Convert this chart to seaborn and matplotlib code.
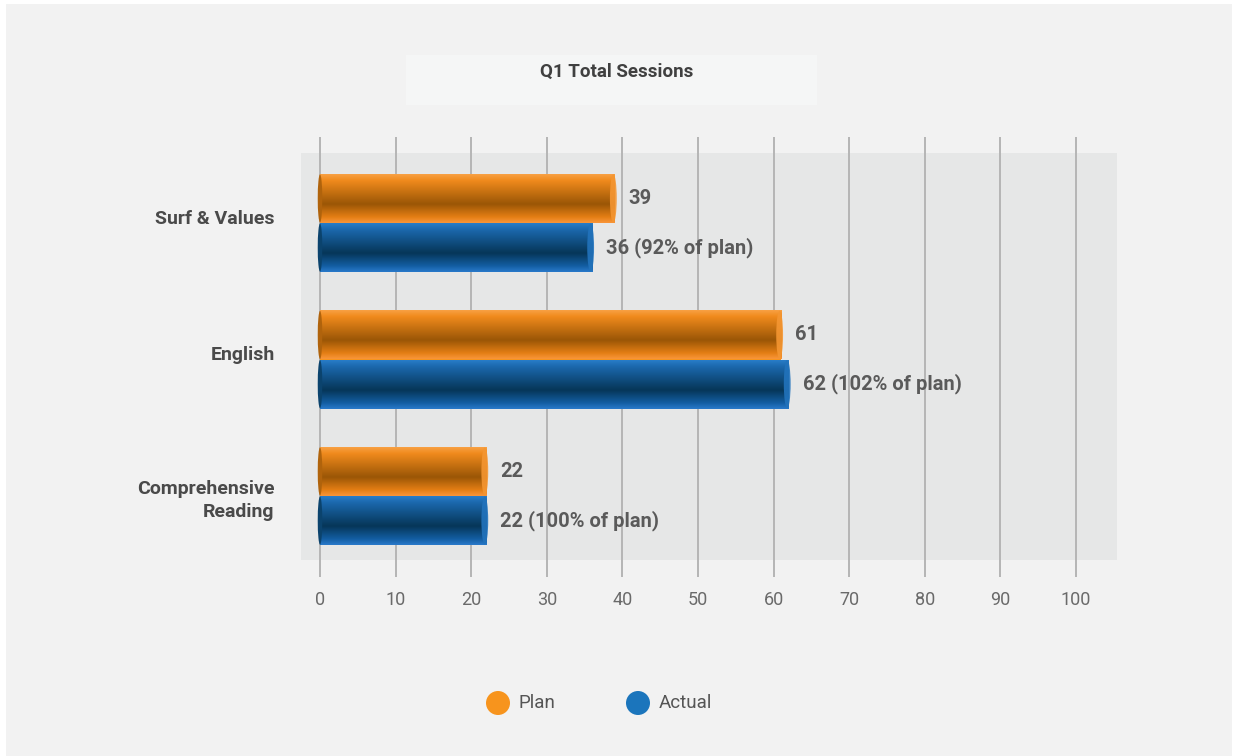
import matplotlib
matplotlib.use("Agg")
import matplotlib.pyplot as plt
import matplotlib.patches as mpatches
import matplotlib.transforms as mtransforms
from matplotlib.colors import LinearSegmentedColormap
import numpy as np
import pandas as pd
import seaborn as sns

categories = ["Surf & Values", "English", "Comprehensive\nReading"]
plan = [39, 61, 22]
actual = [36, 62, 22]
series_names = ["Plan", "Actual"]
actual_pct = ["92%", "102%", "100%"]
x_ticks = [0, 10, 20, 30, 40, 50, 60, 70, 80, 90, 100]
title = "Q1 Total Sessions"

df = pd.DataFrame({
    "category": categories * 2,
    "series": [series_names[0]] * 3 + [series_names[1]] * 3,
    "value": plan + actual,
})

sns.set_theme(style="white")
plt.rcParams["font.family"] = ["Roboto", "DejaVu Sans"]

W, H = 1234, 756
fig = plt.figure(figsize=(W / 100, H / 100), dpi=100)
fig.patch.set_facecolor("white")
# page background
fig.add_artist(mpatches.Rectangle((6 / W, 0), (W - 8) / W, 1 - 4 / H,
                                  transform=fig.transFigure, facecolor="#f2f2f2",
                                  edgecolor="none", zorder=-10))
# title box
fig.add_artist(mpatches.Rectangle((406 / W, 1 - 105 / H), 411 / W, 50 / H,
                                  transform=fig.transFigure, facecolor="#f5f6f6",
                                  edgecolor="none", zorder=-5))
fig.text(617 / W, 1 - 72 / H, title, ha="center", va="center", fontsize=13.5,
         fontweight="bold", color="#404040")

# axes
ax_l, ax_r = 301, 1117
ax_t, ax_b = 137, 577
ax = fig.add_axes([ax_l / W, 1 - ax_b / H, (ax_r - ax_l) / W, (ax_b - ax_t) / H])
ax.set_facecolor("none")

palette = {"Plan": "#f7941d", "Actual": "#1b75bc"}
sns.barplot(data=df, y="category", x="value", hue="series", orient="h",
            palette=palette, width=0.72, dodge=True, ax=ax, legend=False,
            edgecolor="none", linewidth=0, saturation=1, zorder=3)

px_per_unit = 7.56
x0 = -(320 - ax_l) / px_per_unit
x1 = x0 + (ax_r - ax_l) / px_per_unit
ylim = (2 + (ax_b - 496) / 136.5, -(223 - ax_t) / 136.5)

# gray plot area
gy0 = -(223 - 153) / 136.5
gy1 = 2 + (560 - 496) / 136.5
ax.add_patch(mpatches.Rectangle((x0, gy0), x1 - x0, gy1 - gy0, facecolor="#e6e7e7",
                                edgecolor="none", zorder=0))
for t in x_ticks:
    ax.axvline(t, color="#b5b5b5", lw=1.4, zorder=1)

# cylinder shading
orange_cmap = LinearSegmentedColormap.from_list(
    "o", [(0, "#f9a44a"), (0.15, "#f08a1c"), (0.62, "#9a5606"), (0.88, "#e47e14"), (1, "#f9963a")])
blue_cmap = LinearSegmentedColormap.from_list(
    "b", [(0, "#2a80cc"), (0.15, "#1b68ad"), (0.62, "#063658"), (0.88, "#135ea3"), (1, "#2a7acb")])
grad = np.linspace(0, 1, 256).reshape(-1, 1)
n = len(categories)
bars = list(ax.containers)
for ci, cont in enumerate(bars):
    cmap = orange_cmap if ci == 0 else blue_cmap
    for bar in cont:
        xb, yb = bar.get_x(), bar.get_y()
        wb, hb = bar.get_width(), bar.get_height()
        im = ax.imshow(grad, cmap=cmap, aspect="auto",
                       extent=(xb, xb + wb, yb + hb, yb), zorder=4,
                       interpolation="bicubic")
        im.set_clip_path(bar)
        cap = mpatches.Ellipse((xb + wb - 0.2, yb + hb / 2), 0.9, hb * 0.98,
                               facecolor=cmap(0.08), edgecolor="none", zorder=5, alpha=0.9)
        ax.add_patch(cap)
        capl = mpatches.Ellipse((xb, yb + hb / 2), 0.6, hb * 0.98,
                                facecolor=cmap(0.5), edgecolor="none", zorder=5)
        ax.add_patch(capl)

ax.set_xlim(x0, x1)
ax.set_ylim(*ylim)

# value labels
for ci, cont in enumerate(bars):
    for j, bar in enumerate(cont):
        v = plan[j] if ci == 0 else actual[j]
        txt = f"{v}" if ci == 0 else f"{v} ({actual_pct[j]} of plan)"
        ax.annotate(txt, (bar.get_x() + bar.get_width(), bar.get_y() + bar.get_height() / 2),
                    xytext=(10, 0), textcoords="offset points", ha="left", va="center",
                    fontsize=14.5, fontweight="bold", color="#5a5a5a", zorder=6)

ax.set_xticks(x_ticks)
ax.set_xticklabels([str(t) for t in x_ticks], fontsize=13, color="#6a6a6a")
ax.tick_params(axis="x", length=0, pad=10)
ax.tick_params(axis="y", length=0, pad=19)
ax.set_yticks(range(n))
ylab_fs = 14
ylab_ls = 1.4
ax.set_yticklabels(categories, fontsize=ylab_fs, fontweight="bold", color="#4a4a4a",
                   linespacing=ylab_ls)
line_px = ylab_fs * ylab_ls * 100 / 72 * 0.86
for lab in ax.get_yticklabels():
    extra = lab.get_text().count("\n")
    shift = mtransforms.ScaledTranslation(0, (-1 - extra * (line_px - 3)) / 100,
                                          fig.dpi_scale_trans)
    lab.set_horizontalalignment("right")
    lab.set_multialignment("right")
    lab.set_verticalalignment("baseline")
    lab.set_transform(lab.get_transform() + shift)
ax.set_xlabel("")
ax.set_ylabel("")
for s in ax.spines.values():
    s.set_visible(False)
ax.grid(False)

# legend
leg_items = [(498, 703, series_names[0], palette["Plan"]),
             (638, 703, series_names[1], palette["Actual"])]
for cx, cy, name, col in leg_items:
    fig.add_artist(mpatches.Ellipse((cx / W, 1 - cy / H), 24 / W, 24 / H,
                                    transform=fig.transFigure, facecolor=col, edgecolor="none"))
    fig.text((cx + 21) / W, 1 - cy / H, name, ha="left", va="center",
             fontsize=13.5, color="#555555")

fig.savefig("out.png", dpi=100, facecolor=fig.get_facecolor())
